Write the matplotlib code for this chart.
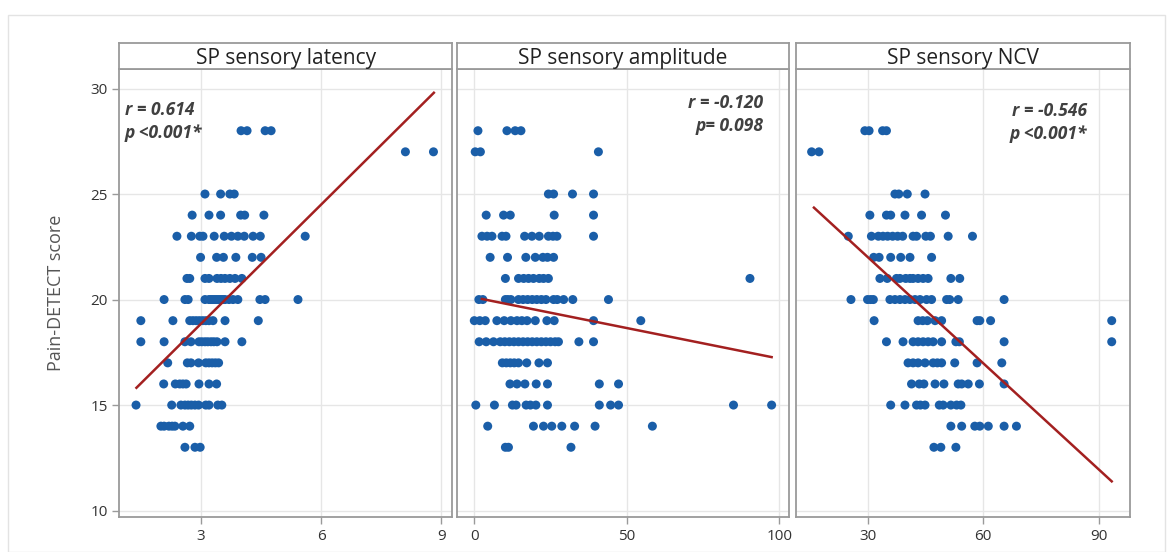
import numpy as np
import matplotlib
matplotlib.use("Agg")
import matplotlib.pyplot as plt
from matplotlib.patches import Rectangle

plt.rcParams['font.family'] = ['Open Sans', 'DejaVu Sans']

# Pain-DETECT score -> x values, one dict per panel
latency_by_score = {
    28: [4.0, 4.15, 4.6, 4.75],
    27: [8.1, 8.8],
    25: [3.1, 3.49, 3.72, 3.83],
    24: [2.78, 3.2, 3.49, 3.99, 4.09, 4.57],
    23: [2.4, 2.76, 2.97, 3.05, 3.33, 3.58, 3.76, 3.92, 4.08, 4.3, 4.48, 5.6],
    22: [2.99, 3.39, 3.56, 3.87, 4.28, 4.5],
    21: [2.65, 2.72, 3.1, 3.2, 3.4, 3.5, 3.6, 3.72, 3.85, 4.02],
    20: [2.08, 2.6, 2.68, 3.1, 3.2, 3.25, 3.3, 3.35, 3.4, 3.45, 3.5, 3.55,
         3.6, 3.7, 3.8, 3.92, 4.47, 4.6, 5.42],
    19: [1.5, 2.3, 2.72, 2.8, 2.88, 2.96, 3.04, 3.12, 3.2, 3.3, 3.6, 4.43],
    18: [1.5, 2.08, 2.6, 2.75, 2.95, 3.02, 3.1, 3.17, 3.25, 3.32, 3.4, 3.6, 4.02],
    17: [2.17, 2.66, 2.75, 2.94, 3.12, 3.2, 3.28, 3.36, 3.44],
    16: [2.07, 2.36, 2.47, 2.55, 2.63, 2.95, 3.2, 3.39],
    15: [1.38, 2.27, 2.5, 2.6, 2.68, 2.76, 2.85, 2.94, 3.12, 3.2, 3.42, 3.52],
    14: [2.0, 2.08, 2.2, 2.28, 2.35, 2.55, 2.72],
    13: [2.6, 2.85, 2.98],
}
amplitude_by_score = {
    28: [1.2, 10.7, 13.4, 15.3],
    27: [0.3, 2.0, 40.7],
    25: [24.3, 26.0, 32.2, 39.1],
    24: [3.9, 9.6, 11.8, 26.2, 39.1],
    23: [2.5, 4.2, 5.8, 9.1, 10.4, 16.5, 18.9, 21.3, 24.3, 25.8, 27.1, 39.1],
    22: [5.2, 10.9, 16.9, 20.0, 22.5, 24.0, 26.0],
    21: [10.2, 14.5, 16.2, 17.8, 19.4, 21.3, 22.7, 24.3, 90.4],
    20: [1.5, 2.8, 10.2, 11.0, 12.0, 14.5, 16.0, 17.5, 19.0, 20.5, 22.0, 23.5,
         26.0, 27.2, 29.3, 32.3, 44.0],
    19: [0.0, 1.8, 3.6, 7.4, 9.8, 12.0, 14.0, 15.6, 17.3, 20.0, 23.8, 26.2, 39.1, 54.6],
    18: [1.6, 3.9, 6.3, 8.5, 10.0, 11.5, 13.0, 14.5, 16.0, 17.5, 19.0, 20.5, 22.0,
         23.5, 25.0, 26.5, 27.6, 34.3, 39.1],
    17: [9.2, 10.5, 11.8, 13.1, 14.5, 17.2, 21.2, 24.0],
    16: [11.7, 14.0, 16.6, 20.3, 24.0, 41.0, 47.3],
    15: [0.5, 6.6, 12.5, 13.7, 17.0, 18.4, 20.2, 24.0, 41.0, 44.7, 47.3, 85.0, 97.5],
    14: [4.4, 19.4, 22.7, 25.4, 28.7, 32.9, 39.6, 58.4],
    13: [10.2, 11.2, 31.7],
}
ncv_by_score = {
    28: [29.3, 30.4, 33.9, 34.9],
    27: [15.5, 17.4],
    25: [37.1, 38.1, 40.3, 44.9],
    24: [30.6, 34.9, 36.0, 39.7, 44.0, 50.2],
    23: [25.0, 31.0, 32.8, 34.0, 35.2, 36.5, 37.8, 39.1, 41.8, 42.7, 45.1, 46.3,
         50.9, 57.2],
    22: [31.6, 33.0, 36.0, 38.6, 41.0, 46.6],
    21: [33.2, 35.1, 37.5, 38.4, 39.9, 41.0, 41.8, 43.1, 44.4, 45.7, 51.6, 53.9],
    20: [25.7, 30.0, 30.8, 31.5, 35.8, 37.1, 38.4, 39.7, 41.0, 42.3, 43.6, 45.3,
         46.6, 50.5, 51.3, 53.5, 65.4],
    19: [31.7, 43.1, 44.3, 45.5, 47.5, 49.2, 58.4, 59.1, 61.9, 93.3],
    18: [34.9, 39.2, 41.8, 43.1, 44.4, 45.7, 47.0, 49.2, 52.9, 53.8, 65.4, 93.3],
    17: [40.5, 41.8, 43.1, 44.9, 47.0, 48.1, 49.2, 52.6, 58.4, 64.8],
    16: [41.4, 43.4, 44.6, 47.5, 49.8, 53.5, 54.4, 56.1, 59.0, 65.4],
    15: [36.0, 39.7, 42.7, 43.7, 44.9, 48.6, 49.6, 51.6, 53.1, 54.2],
    14: [51.6, 54.4, 57.8, 59.1, 61.3, 65.4, 68.6],
    13: [47.2, 49.0, 52.9],
}

titles = ["SP sensory latency", "SP sensory amplitude", "SP sensory NCV"]
stats_r = ["r = 0.614", "r = -0.120", "r = -0.546"]
stats_p = ["p <0.001*", "p= 0.098", "p <0.001*"]
# fitted line (intercept, slope) and its x span, as drawn in the figure
fit_lines = [(13.20, 1.884), (20.10, -0.029), (27.06, -0.168)]
fit_spans = [(1.39, 8.81), (2.5, 97.5), (16.1, 93.3)]
x_ticks = [[3, 6, 9], [0, 50, 100], [30, 60, 90]]
x_limits = [(0.955, 9.27), (-5.67, 103.2), (11.32, 98.04)]
y_ticks = [10, 15, 20, 25, 30]

panels = [latency_by_score, amplitude_by_score, ncv_by_score]

W, H = 1173, 552
fig = plt.figure(figsize=(W / 100, H / 100), dpi=100)

# faint outer frame
fig.patches.append(Rectangle((8 / W, 0), 1157 / W, (H - 15) / H, transform=fig.transFigure,
                             fill=False, edgecolor='#e3e3e3', linewidth=1.0))

left_px = [119, 457, 795.5]
right_px = [452.3, 789, 1130]
top_px, bot_px, strip_top_px = 69.3, 516.5, 43.3

# where the r/p note sits in each panel (axes fraction) and its alignment
note_pos = [(0.018, 0.929, 'left'), (0.922, 0.944, 'right'), (0.871, 0.927, 'right')]

dot_color = '#1a5ea8'
line_color = '#a32020'
spine_color = '#9a9a9a'

for i, data in enumerate(panels):
    x0 = left_px[i] / W
    w = (right_px[i] - left_px[i]) / W
    ax = fig.add_axes([x0, 1 - bot_px / H, w, (bot_px - top_px) / H])

    xs = np.concatenate([np.array(v, float) for v in data.values()])
    ys = np.concatenate([np.full(len(v), k, float) for k, v in data.items()])
    ax.scatter(xs, ys, s=42, color=dot_color, edgecolors='none', zorder=3)

    b0, b1 = fit_lines[i]
    lx = np.array(fit_spans[i])
    ax.plot(lx, b0 + b1 * lx, color=line_color, linewidth=1.8, zorder=4)

    ax.set_xlim(*x_limits[i])
    ax.set_ylim(9.72, 30.91)
    ax.set_xticks(x_ticks[i])
    ax.set_yticks(y_ticks)
    ax.grid(True, color='#e6e6e6', linewidth=1.0, zorder=0)
    ax.set_axisbelow(True)
    for s in ax.spines.values():
        s.set_color(spine_color)
        s.set_linewidth(1.3)
    ax.tick_params(axis='x', colors=spine_color, labelcolor='#333333', labelsize=11,
                   length=5, width=1, pad=4)
    if i == 0:
        ax.tick_params(axis='y', colors=spine_color, labelcolor='#333333', labelsize=11,
                       length=5, width=1, pad=3)
        ax.set_ylabel("Pain-DETECT score", color='#555555', fontsize=13)
        ax.yaxis.set_label_coords(-0.163, 0.5)
    else:
        ax.tick_params(axis='y', length=0, labelleft=False)

    # stats text
    nx, ny, ha = note_pos[i]
    ax.text(nx, ny, stats_r[i] + "\n" + stats_p[i], transform=ax.transAxes,
            ha=ha, va='top', fontsize=12.5, fontweight='bold', fontstyle='italic',
            color='#404040', linespacing=1.35)

    # title strip
    sax = fig.add_axes([x0, 1 - top_px / H, w, (top_px - strip_top_px) / H])
    sax.set_xticks([])
    sax.set_yticks([])
    for s in sax.spines.values():
        s.set_color(spine_color)
        s.set_linewidth(1.3)
    sax.text(0.5, 0.42, titles[i], ha='center', va='center', fontsize=15,
             color='#222222', transform=sax.transAxes)

fig.savefig("out.png", dpi=100)
